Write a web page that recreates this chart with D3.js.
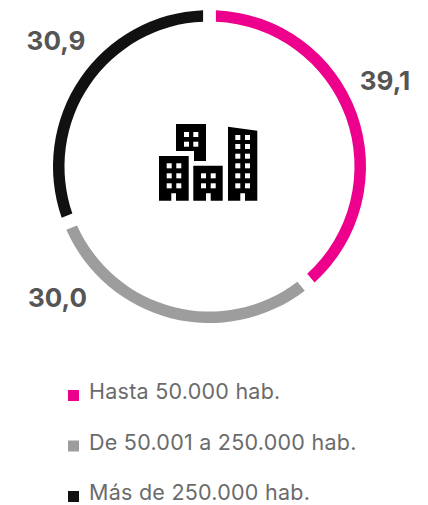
<!DOCTYPE html>
<html>
<head>
<meta charset="utf-8">
<script src="https://cdn.jsdelivr.net/npm/d3@7"></script>
<style>
html, body { margin: 0; padding: 0; background: #fff; }
svg { display: block; }
text { font-family: "Inter", sans-serif; }
</style>
</head>
<body>
<div id="chart"></div>
<script>
var categories = ["Hasta 50.000 hab.", "De 50.001 a 250.000 hab.", "Más de 250.000 hab."];
var values = [39.1, 30.0, 30.9];
var valueLabels = ["39,1", "30,0", "30,9"];
var colors = ["#ec008c", "#9d9d9d", "#111111"];

var svg = d3.select("#chart").append("svg")
    .attr("width", 428)
    .attr("height", 505);

var ring = svg.append("g").attr("transform", "translate(209.5,166.5)");

var pie = d3.pie().sort(null).padAngle(0.06);
var arc = d3.arc().innerRadius(145).outerRadius(156.5);

ring.selectAll("path")
    .data(pie(values))
    .enter()
    .append("path")
    .attr("d", arc)
    .style("fill", function(d, i) { return colors[i]; });

// value labels sit outside the ring
var labelPos = [[385, 90], [57.5, 307], [56, 50]];
svg.selectAll(".val")
    .data(valueLabels)
    .enter()
    .append("text")
    .attr("class", "val")
    .attr("x", function(d, i) { return labelPos[i][0]; })
    .attr("y", function(d, i) { return labelPos[i][1]; })
    .attr("text-anchor", "middle")
    .style("font-size", "26px")
    .style("font-weight", 700)
    .style("fill", "#555555")
    .text(function(d) { return d; });

// legend
var legendY = d3.scalePoint().domain(categories).range([399, 500]);

svg.selectAll(".sw")
    .data(categories)
    .enter()
    .append("rect")
    .attr("class", "sw")
    .attr("x", 68)
    .attr("y", function(d) { return legendY(d) - 9; })
    .attr("width", 11)
    .attr("height", 11)
    .style("fill", function(d, i) { return colors[i]; });

svg.selectAll(".lg")
    .data(categories)
    .enter()
    .append("text")
    .attr("class", "lg")
    .attr("x", 89)
    .attr("y", function(d) { return legendY(d); })
    .style("font-size", "21.5px")
    .style("letter-spacing", "0.25px")
    .style("fill", "#6b6b6b")
    .text(function(d) { return d; });

// buildings icon
var icon = svg.append("g");

function building(d) {
    icon.append("path").attr("d", d).style("fill", "#000");
}
function windows(xs, ys) {
    xs.forEach(function(x) {
        ys.forEach(function(y) {
            icon.append("rect")
                .attr("x", x).attr("y", y)
                .attr("width", 5).attr("height", 5)
                .style("fill", "#fff");
        });
    });
}

building("M176,124H206V161H194V151H176Z");
building("M159,156H188.7V200.7H176V193.3H171.3V200.7H159Z");
building("M193.3,165.7H222.7V200.7H210.7V193.3H206V200.7H193.3Z");
building("M228,126.7L257.3,130.7V200.7H245V193.3H240.3V200.7H228Z");

windows([184, 193.3], [132, 141.7]);
windows([166.7, 176.3], [163.3, 173.3, 183.3]);
windows([201, 210.7], [173.3, 183.3]);
windows([235.3, 245], [135, 144, 153.7, 163.3, 173.3, 183.3]);
</script>
</body>
</html>
